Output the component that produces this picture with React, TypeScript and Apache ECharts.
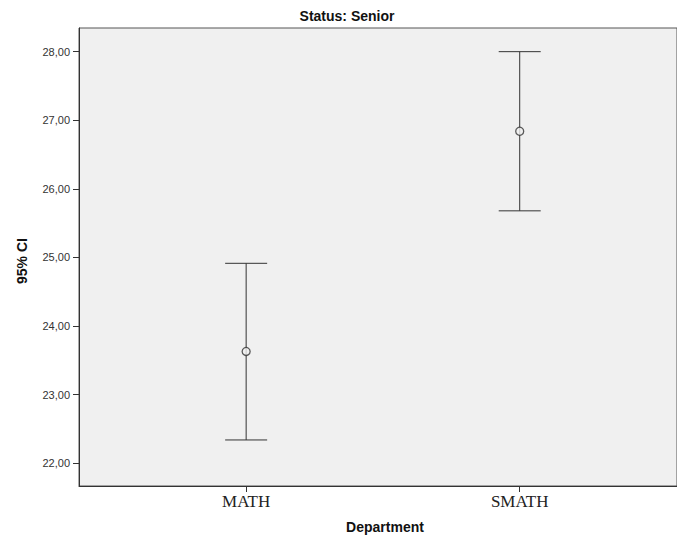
import React, { useEffect, useRef } from "react";
import * as echarts from "echarts";

const categories = ["MATH", "SMATH"];
const means = [23.63, 26.84];
const lower = [22.34, 25.68];
const upper = [24.915, 28.0];
const yTicks = [22, 23, 24, 25, 26, 27, 28];

export default function App() {
  const ref = useRef<HTMLDivElement>(null);
  useEffect(() => {
    if (!ref.current) return;
    const chart = echarts.init(ref.current, undefined, { renderer: "svg" });
    const errData = categories.map((_, i) => [i, lower[i], upper[i]]);
    const meanData = categories.map((_, i) => [i, means[i]]);
    chart.setOption({
      animation: false,
      backgroundColor: "#ffffff",
      grid: {
        left: 79,
        right: -2,
        top: 28,
        bottom: 55,
        show: true,
        backgroundColor: "#f0f0f0",
        borderColor: "#555",
        borderWidth: 1,
      },
      graphic: [
        {
          type: "text",
          x: 347,
          y: 16,
          style: {
            text: "Status: Senior",
            font: "bold 14px 'Liberation Sans Narrow', 'Liberation Sans', Arial",
            fill: "#111",
            align: "center",
            verticalAlign: "middle",
          },
        },
        {
          type: "text",
          x: 22,
          y: 261,
          rotation: Math.PI / 2,
          style: {
            text: "95% CI",
            font: "bold 14px 'Liberation Sans', Arial",
            fill: "#111",
            align: "center",
            verticalAlign: "middle",
          },
        },
        {
          type: "text",
          x: 385,
          y: 527,
          style: {
            text: "Department",
            font: "bold 14px 'Liberation Sans', Arial",
            fill: "#111",
            align: "center",
            verticalAlign: "middle",
          },
        },
      ],
      xAxis: {
        type: "value",
        min: -0.611,
        max: 1.575,
        splitLine: { show: false },
        axisLine: { show: true, onZero: false, lineStyle: { color: "#333", width: 1 } },
        axisTick: {
          show: true,
          customValues: [0, 1],
          length: 6,
          lineStyle: { color: "#333" },
        },
        axisLabel: {
          customValues: [0, 1],
          formatter: (v: number) => categories[Math.round(v)] ?? "",
          fontFamily: "'Liberation Serif', 'Times New Roman', serif",
          fontSize: 17,
          color: "#222",
          margin: 7,
        },
      },
      yAxis: {
        type: "value",
        min: 21.669,
        max: 28.345,
        splitLine: { show: false },
        axisLine: { show: true, onZero: false, lineStyle: { color: "#333", width: 1 } },
        axisTick: {
          show: true,
          customValues: yTicks,
          length: 6,
          lineStyle: { color: "#333" },
        },
        axisLabel: {
          customValues: yTicks,
          formatter: (v: number) => v.toFixed(2).replace(".", ","),
          fontFamily: "'Liberation Sans', Arial",
          fontSize: 11,
          color: "#333",
          margin: 9,
        },
      },
      series: [
        {
          type: "custom",
          data: errData,
          renderItem: (params: any, api: any) => {
            const x = api.value(0);
            const lo = api.coord([x, api.value(1)]);
            const hi = api.coord([x, api.value(2)]);
            const hw = 21;
            const style = { stroke: "#333", lineWidth: 1 };
            return {
              type: "group",
              children: [
                { type: "line", shape: { x1: hi[0], y1: hi[1], x2: lo[0], y2: lo[1] }, style },
                { type: "line", shape: { x1: hi[0] - hw, y1: hi[1], x2: hi[0] + hw, y2: hi[1] }, style },
                { type: "line", shape: { x1: lo[0] - hw, y1: lo[1], x2: lo[0] + hw, y2: lo[1] }, style },
              ],
            };
          },
          z: 2,
        },
        {
          type: "scatter",
          data: meanData,
          symbol: "circle",
          symbolSize: 8,
          itemStyle: { color: "#f0f0f0", borderColor: "#333", borderWidth: 1.3 },
          z: 3,
        },
      ],
    });
    return () => chart.dispose();
  }, []);
  return (
    <div
      ref={ref}
      style={{ position: "fixed", left: 0, top: 0, width: 677, height: 541 }}
    />
  );
}
